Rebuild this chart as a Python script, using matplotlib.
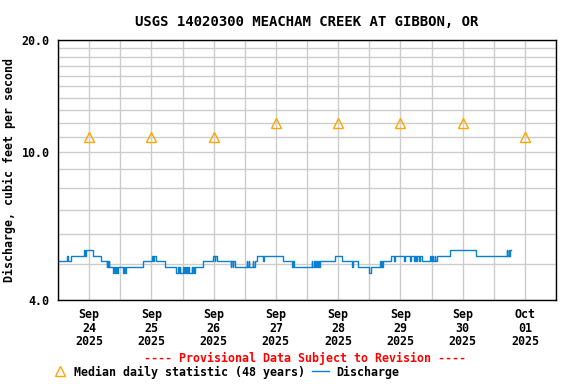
import numpy as np
import pandas as pd
import matplotlib
matplotlib.use("Agg")
import matplotlib.pyplot as plt
import matplotlib.dates as mdates
from matplotlib.ticker import FixedLocator, FormatStrFormatter, NullFormatter
from matplotlib.lines import Line2D

# discharge levels seen on the chart (cfs)
A, B, C, D, E = 5.44, 5.25, 5.08, 4.90, 4.73

# hours after 2025-09-24 00:00 where the 15-min discharge changes, and the new value
q_hours = [0.0, 3.6, 3.9, 5.0, 10.1, 10.5, 10.9, 13.6, 16.4,
           18.8, 19.0, 19.3, 19.5, 19.8,
           21.3, 21.6, 22.1, 22.4, 22.9, 23.2,
           25.2, 25.5, 25.9, 26.2,
           32.6, 36.4, 36.7, 37.0, 37.8, 41.4,
           45.5, 46.4, 46.6, 47.0, 47.2, 48.3, 48.6, 49.0, 49.3, 49.6, 49.8,
           50.2, 50.4, 51.5, 51.8, 52.2, 52.4, 52.8,
           55.8, 59.9, 60.4, 60.7, 61.2,
           66.6, 66.8, 67.4, 67.6, 68.3,
           72.7, 72.9, 73.5, 73.7, 75.0, 75.2, 75.9, 76.8,
           79.1, 79.4, 86.9, 90.4, 90.6, 90.9,
           97.8, 98.1, 98.6, 98.9, 99.4, 99.7, 100.2, 100.5, 101.0,
           106.8, 109.4, 113.5, 113.8, 115.8, 120.0, 120.6,
           124.1, 124.4, 124.8, 125.0, 125.4, 128.4,
           129.6, 129.9, 133.5, 133.8,
           135.7, 136.0, 137.2, 137.5, 138.0, 138.3, 139.2, 139.5, 140.2,
           143.4, 143.7, 144.3, 144.6, 145.2, 145.5, 146.0,
           151.1, 161.1, 173.0, 173.3, 173.7, 174.0, 174.2, 174.5]
q_values = [C, B, C, B, A, B, A, B, C,
            D, C, D, C, D,
            E, D, E, D, E, D,
            E, D, E, D,
            C, B, C, B, C, D,
            E, D, E, D, E, D, E, D, E, D, E,
            D, E, D, E, D, E, D,
            C, B, C, B, C,
            D, C, D, C, D,
            C, D, C, D, C, D, C, B,
            C, B, C, D, C, D,
            C, D, C, D, C, D, C, D, C,
            B, C, D, C, D, E, D,
            C, D, C, D, C, B,
            C, B, C, B,
            C, B, C, B, C, B, C, B, C,
            B, C, B, C, B, C, B,
            A, B, A, B, A, B, A, A]

# median daily statistic (48 years), plotted at noon
median_days = ["2025-09-24", "2025-09-25", "2025-09-26", "2025-09-27",
               "2025-09-28", "2025-09-29", "2025-09-30", "2025-10-01"]
median_values = [11, 11, 11, 12, 12, 12, 12, 11]

y_major = [4, 10, 20]
y_minor = [5, 6, 7, 8, 9, 11, 12, 13, 14, 15, 16, 17, 18, 19]

plt.rcParams['font.family'] = 'DejaVu Sans Mono'
plt.rcParams['font.weight'] = 'bold'
plt.rcParams['axes.titleweight'] = 'bold'
plt.rcParams['axes.labelweight'] = 'bold'
plt.rcParams['font.size'] = 8.4

t0 = pd.Timestamp("2025-09-24")
q_times = t0 + pd.to_timedelta(q_hours, unit="h")
med_times = pd.to_datetime(median_days) + pd.Timedelta(hours=12)

fig = plt.figure(figsize=(5.76, 3.84), dpi=100)
ax = fig.add_axes([58 / 576, 84 / 384, 498 / 576, 260 / 384])

ax.plot(q_times, q_values, color='#0a80d0', lw=1, drawstyle='steps-post')
ax.plot(med_times, median_values, ls='none', marker='^', ms=7,
        mfc='none', mec='#ffa500', mew=1)

ax.set_yscale('log')
ax.set_ylim(4, 20)
ax.yaxis.set_major_locator(FixedLocator(y_major))
ax.yaxis.set_major_formatter(FormatStrFormatter('%.1f'))
ax.yaxis.set_minor_locator(FixedLocator(y_minor))
ax.yaxis.set_minor_formatter(NullFormatter())

ax.set_xlim(t0, t0 + pd.Timedelta(days=8))
ax.xaxis.set_major_locator(mdates.DayLocator())
ax.xaxis.set_major_formatter(NullFormatter())
ax.xaxis.set_minor_locator(mdates.HourLocator(byhour=[12]))
ax.xaxis.set_minor_formatter(mdates.DateFormatter('%b\n%d\n%Y'))

ax.grid(True, which='both', color='#cccccc', lw=1)
ax.set_axisbelow(True)
ax.tick_params(axis='both', which='both', length=0)
ax.tick_params(axis='y', pad=6)
ax.tick_params(axis='x', which='minor', pad=6)
for lab in ax.get_xticklabels(minor=True):
    lab.set_linespacing(1.05)
for sp in ax.spines.values():
    sp.set_linewidth(1)

ax.set_ylabel('Discharge, cubic feet per second', labelpad=4)
ax.set_title('USGS 14020300 MEACHAM CREEK AT GIBBON, OR', pad=10)

fig.text(305 / 576, 1 - 358 / 384, '---- Provisional Data Subject to Revision ----',
         color='red', ha='center', va='center')

handles = [Line2D([], [], ls='none', marker='^', ms=7, mfc='none', mec='#ffa500', mew=1),
           Line2D([], [], color='#0a80d0', lw=1)]
fig.legend(handles, ['Median daily statistic (48 years)', 'Discharge'],
           loc='center left', bbox_to_anchor=(51 / 576, 1 - 372 / 384), ncol=2,
           frameon=False, borderpad=0, handlelength=1.46, handletextpad=0.55,
           columnspacing=0.6, borderaxespad=0)

fig.savefig('out.png', dpi=100)
